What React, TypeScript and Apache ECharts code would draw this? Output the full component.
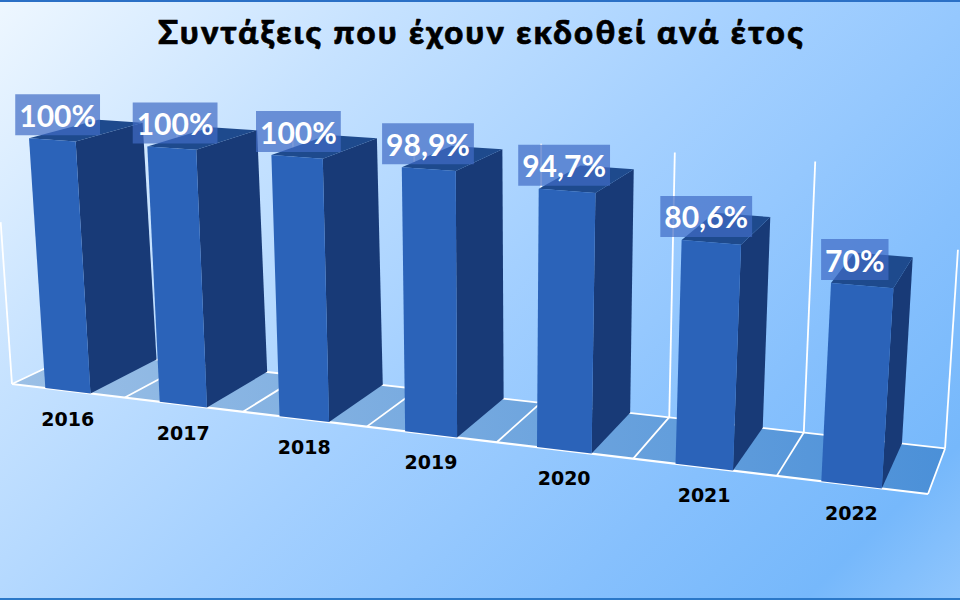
import React, { useEffect, useRef } from "react";
import * as echarts from "echarts";

const categories = ["2016", "2017", "2018", "2019", "2020", "2021", "2022"];
const shares = [100, 100, 100, 98.9, 94.7, 80.6, 70];
const chartTitle = "Συντάξεις που έχουν εκδοθεί ανά έτος";

const W = 960;
const H = 600;
const VP = [1175, -165];

// perspective of the chart's front plane: u = category position, v = share of the axis
function front(u: number, v: number) {
  const w = 1 - 0.02242 * u - 0.035 * v;
  return [(110.05 * u - 17.2 * v + 12) / w, (4.64 * u - 253 * v + 384) / w];
}
function back(u: number, v: number) {
  const p = front(u, v);
  const k = 0.06 + 0.0013 * u;
  return [p[0] + k * (VP[0] - p[0]), p[1] + k * (VP[1] - p[1])];
}
function uv(pt: number[]) {
  return [(pt[0] / W) * categories.length, (H - pt[1]) / H];
}

const whiteLine = { stroke: "#ffffff", lineWidth: 1.8, fill: "none" };
const boundaries = [0, 1, 2, 3, 4, 5, 6, 7];

function lineShape(a: number[], b: number[]) {
  return { x1: a[0], y1: a[1], x2: b[0], y2: b[1] };
}

function renderFloor() {
  const children: any[] = [
    {
      type: "polygon",
      shape: { points: [front(0, 0), front(7, 0), back(7, 0), back(0, 0)] },
      style: {
        fill: new echarts.graphic.LinearGradient(12, 0, 945, 0, [
          { offset: 0, color: "#9cc0e6" },
          { offset: 1, color: "#4b90d8" },
        ], true),
      },
    },
    { type: "line", shape: lineShape(back(0, 0), back(7, 0)), style: whiteLine },
  ];
  boundaries.forEach((u) => {
    children.push({ type: "line", shape: lineShape(front(u, 0), back(u, 0)), style: whiteLine });
    if (u > 0) {
      children.push({ type: "line", shape: lineShape(back(u, 0), back(u, u === 7 ? 0.74 : 1.02)), style: whiteLine });
    }
  });
  children.push({ type: "line", shape: lineShape(front(0, 0), front(0, 0.66)), style: whiteLine });
  children.push({ type: "line", shape: lineShape(front(0, 0), front(7, 0)), style: { ...whiteLine, lineWidth: 2.2 } });
  return { type: "group", children };
}

function renderBar(params: any, api: any) {
  const i = api.value(0);
  const [uc, v] = uv(api.coord([i, api.value(1)]));
  const half = (api.size([1, 0])[0] / W) * categories.length * 0.2;
  const l = uc - half;
  const r = uc + half;
  return {
    type: "group",
    children: [
      { type: "polygon", shape: { points: [front(r, 0), front(r, v), back(r, v), back(r, 0)] }, style: { fill: "#183a77" } },
      { type: "polygon", shape: { points: [front(l, v), front(r, v), back(r, v), back(l, v)] }, style: { fill: "#1e4a8d" } },
      { type: "polygon", shape: { points: [front(l, 0), front(r, 0), front(r, v), front(l, v)] }, style: { fill: "#2b63b9" } },
    ],
  };
}

function renderShareLabel(params: any, api: any) {
  const i = api.value(0);
  const [uc, v] = uv(api.coord([i, api.value(1)]));
  const half = (api.size([1, 0])[0] / W) * categories.length * 0.2;
  const tl = front(uc - half, v);
  return {
    type: "text",
    x: tl[0] + 29 - uc * 0.8,
    y: tl[1] - 3,
    style: {
      text: String(shares[i]).replace(".", ",") + "%",
      fill: "#ffffff",
      font: '700 30px "Lato"',
      align: "center",
      verticalAlign: "bottom",
      backgroundColor: "rgba(64,107,196,0.7)",
      padding: [0, 4, 0, 4],
      lineHeight: 41,
    },
  };
}

function renderCategory(params: any, api: any) {
  const i = api.value(0);
  const [uc] = uv(api.coord([i, 0]));
  const p = front(uc, 0);
  return {
    type: "text",
    x: p[0],
    y: p[1] + 28,
    style: {
      text: categories[i],
      fill: "#000000",
      font: '700 19px "DejaVu Sans"',
      align: "center",
      verticalAlign: "middle",
    },
  };
}

export default function App() {
  const ref = useRef<HTMLDivElement>(null);
  useEffect(() => {
    const chart = echarts.init(ref.current!, null, { renderer: "svg", width: W, height: H });
    const rows = categories.map((_, i) => [i, shares[i]]);
    chart.setOption({
      animation: false,
      title: {
        text: chartTitle,
        left: 153,
        top: 9,
        textStyle: {
          fontFamily: "Lato",
          fontWeight: 900,
          fontSize: 33,
          color: "#000000",
          textBorderColor: "#000000",
          textBorderWidth: 0.7,
        },
      },
      grid: { left: 0, right: 0, top: 0, bottom: 0 },
      xAxis: { type: "category", data: categories, show: false },
      yAxis: { type: "value", min: 0, max: 100, show: false },
      series: [
        { type: "custom", silent: true, clip: false, z: 1, data: [[0, 0]], renderItem: renderFloor },
        { type: "custom", silent: true, clip: false, z: 2, data: rows, renderItem: renderBar },
        { type: "custom", silent: true, clip: false, z: 3, data: rows, renderItem: renderCategory },
        { type: "custom", silent: true, clip: false, z: 4, data: rows, renderItem: renderShareLabel },
      ],
    });
    return () => chart.dispose();
  }, []);
  return (
    <>
      <style>{'svg text[style*="900"]{letter-spacing:2.3px}'}</style>
      <div
        ref={ref}
        style={{
          position: "fixed",
          left: 0,
          top: 0,
          width: W,
          height: H,
          background:
            "linear-gradient(135deg, #eef7ff 0%, #c6e2ff 25%, #a4d0ff 50%, #86c0fd 75%, #76b8fb 90%, #90c6fd 100%)",
          boxShadow: "inset 0 2px 0 #2b70c6, inset 0 -2px 0 #2b78c8",
        }}
      />
    </>
  );
}
